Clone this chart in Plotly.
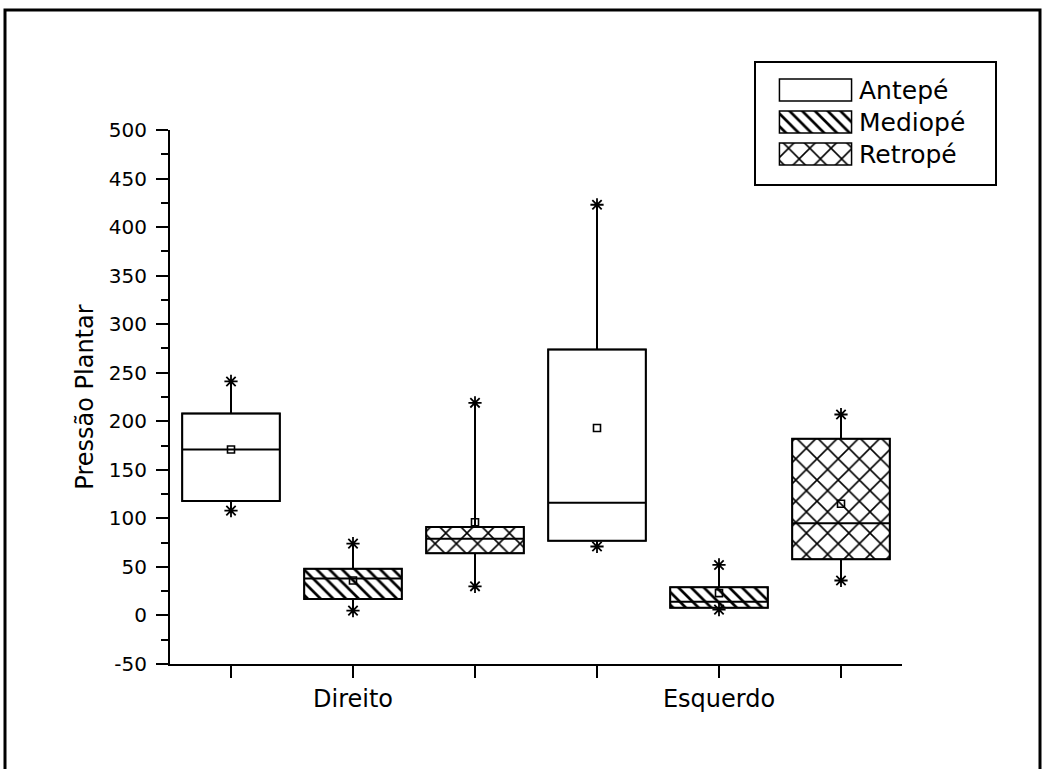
import plotly.graph_objects as go

# ---- data ----
sides = ["Direito", "Esquerdo"]
regions = ["Antepé", "Mediopé", "Retropé"]

q1_vals = {"Antepé": [118, 77], "Mediopé": [17, 8], "Retropé": [64, 58]}
median_vals = {"Antepé": [171, 116], "Mediopé": [38, 14], "Retropé": [79, 95]}
q3_vals = {"Antepé": [208, 274], "Mediopé": [48, 29], "Retropé": [91, 182]}
mean_vals = {"Antepé": [171, 193], "Mediopé": [36, 23], "Retropé": [96, 115]}
max_vals = {"Antepé": [241, 423], "Mediopé": [74, 52], "Retropé": [219, 207]}
min_vals = {"Antepé": [108, 71], "Mediopé": [5, 6], "Retropé": [30, 36]}

y_tick_vals = list(range(-50, 501, 50))
y_tick_text = [str(v) for v in y_tick_vals]

# ---- styling ----
FONT = "DejaVu Sans, Liberation Sans, Arial, sans-serif"
patterns = {
    "Antepé": dict(shape=""),
    "Mediopé": dict(shape="\\", fgcolor="black", bgcolor="white", fgopacity=1,
                    size=9, solidity=0.3),
    "Retropé": dict(shape="x", fgcolor="black", bgcolor="white", fgopacity=1,
                    size=15, solidity=0.2),
}

W, H = 1043, 769
def px(x):
    return x / W
def py(y):
    return (H - y) / H

def pos(side_i, reg_i):
    return side_i * len(regions) + reg_i + 1

fig = go.Figure()

for ri, reg in enumerate(regions):
    xs = [pos(si, ri) for si in range(len(sides))]
    heights = [q3 - q1 for q1, q3 in zip(q1_vals[reg], q3_vals[reg])]
    fig.add_trace(go.Bar(
        x=xs, y=heights, base=q1_vals[reg], width=0.8, name=reg, showlegend=False,
        marker=dict(color="white", pattern=patterns[reg],
                    line=dict(color="black", width=1.5)),
        hoverinfo="skip",
    ))

# box outlines, medians and whiskers
bx, bq1, bmed, bq3, blo, bhi, bmean = [], [], [], [], [], [], []
for si in range(len(sides)):
    for ri, reg in enumerate(regions):
        bx.append(pos(si, ri))
        bq1.append(q1_vals[reg][si])
        bmed.append(median_vals[reg][si])
        bq3.append(q3_vals[reg][si])
        blo.append(min_vals[reg][si])
        bhi.append(max_vals[reg][si])
        bmean.append(mean_vals[reg][si])

fig.add_trace(go.Box(
    x=bx, q1=bq1, median=bmed, q3=bq3, lowerfence=blo, upperfence=bhi,
    width=0.8, whiskerwidth=0, fillcolor="rgba(0,0,0,0)",
    line=dict(color="black", width=2), showlegend=False, boxpoints=False,
    hoverinfo="skip",
))

fig.add_trace(go.Scatter(
    x=bx, y=bmean, mode="markers", showlegend=False, hoverinfo="skip",
    marker=dict(symbol="square-open", size=7, color="black", line=dict(width=1.6)),
))
fig.add_trace(go.Scatter(
    x=bx + bx, y=blo + bhi, mode="markers", showlegend=False, hoverinfo="skip",
    marker=dict(symbol="asterisk-open", size=11, color="black", line=dict(width=1.8, color="black")),
))

# legend swatches drawn on an inset axis (one bar per region)
for reg in regions:
    fig.add_trace(go.Bar(
        y=[reg], x=[1], orientation="h", width=0.69, xaxis="x2", yaxis="y2",
        showlegend=False, hoverinfo="skip",
        marker=dict(color="white", pattern=patterns[reg],
                    line=dict(color="black", width=1.5)),
    ))

# outer frame and legend frame
fig.add_shape(type="rect", xref="paper", yref="paper",
              x0=px(5), x1=px(1040), y0=py(800), y1=py(10),
              line=dict(color="black", width=3), fillcolor="rgba(0,0,0,0)")
fig.add_shape(type="rect", xref="paper", yref="paper",
              x0=px(755), x1=px(996), y0=py(185), y1=py(62),
              line=dict(color="black", width=2), fillcolor="rgba(0,0,0,0)")

ticktext = []
for si, s in enumerate(sides):
    for ri in range(len(regions)):
        ticktext.append(s if ri == 1 else "")

fig.update_layout(
    width=W, height=H,
    margin=dict(l=0, r=0, t=0, b=0),
    paper_bgcolor="white", plot_bgcolor="white",
    barmode="overlay", boxmode="overlay",
    font=dict(family=FONT, color="black"),
    showlegend=False,
    xaxis=dict(domain=[px(170), px(902)], range=[0.5, 6.5], tickmode="array",
               tickvals=list(range(1, len(sides) * len(regions) + 1)),
               ticktext=ticktext, ticks="outside", ticklen=12, tickwidth=1.5,
               tickcolor="black", showline=True, linecolor="black", linewidth=2,
               showgrid=False, zeroline=False, automargin=False,
               tickfont=dict(size=24, family=FONT)),
    yaxis=dict(domain=[py(664), py(130)], range=[-50, 500], tickmode="array",
               tickvals=y_tick_vals, ticktext=y_tick_text,
               ticks="outside", ticklen=12, tickwidth=1.5, tickcolor="black",
               minor=dict(dtick=25, ticks="outside", ticklen=7, tickwidth=1.5, tickcolor="black"),
               showline=True, linecolor="black", linewidth=2,
               showgrid=False, zeroline=False, automargin=False,
               ticklabelstandoff=5,
               tickfont=dict(size=20, family=FONT),
               title=dict(text="Pressão Plantar", font=dict(size=24, family=FONT), standoff=8)),
    xaxis2=dict(domain=[px(778), px(853)], range=[-0.02, 1.02], anchor="y2",
                visible=False, fixedrange=True),
    yaxis2=dict(domain=[py(170), py(74)], anchor="x2", type="category",
                categoryorder="array", categoryarray=regions,
                range=[len(regions) - 0.5, -0.5], side="right",
                showline=False, ticks="", showgrid=False, zeroline=False,
                ticklabelstandoff=5, tickfont=dict(size=25, family=FONT),
                automargin=False, fixedrange=True),
)

fig.write_html("out.html", config={"displayModeBar": False},
               post_script="document.body.style.margin='0px';")
